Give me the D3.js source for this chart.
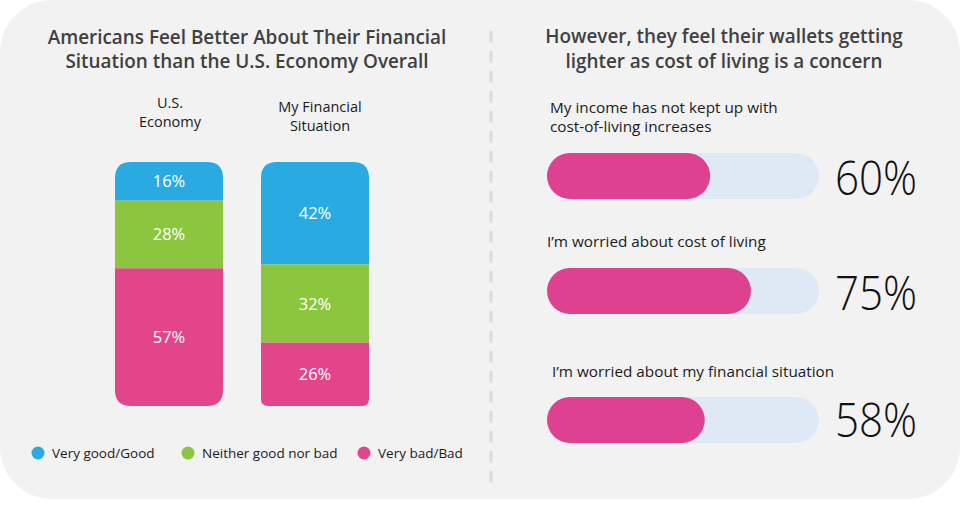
<!DOCTYPE html>
<html><head><meta charset="utf-8">
<script src="https://cdn.jsdelivr.net/npm/d3@7"></script>
<style>
html,body{margin:0;padding:0;background:#fff;}
svg{display:block;font-family:"Open Sans","Noto Sans",sans-serif;}
</style></head>
<body>
<svg id="chart" width="960" height="511"></svg>
<script>
// ---- data ----
const leftTitle = ["Americans Feel Better About Their Financial", "Situation than the U.S. Economy Overall"];
const rightTitle = ["However, they feel their wallets getting", "lighter as cost of living is a concern"];
const groupLabels = [["U.S.", "Economy"], ["My Financial", "Situation"]];
const categories = ["Very good/Good", "Neither good nor bad", "Very bad/Bad"];
const economyValues = [16, 28, 57];
const personalValues = [42, 32, 26];
const concernLabels = [["My income has not kept up with", "cost-of-living increases"], ["I’m worried about cost of living"], ["I’m worried about my financial situation"]];
const concernValues = [60, 75, 58];

const colors = ["#29abe2", "#8cc63f", "#e2458a"];

const svg = d3.select("#chart");

// card background
svg.append("rect").attr("x", 0).attr("y", 0).attr("width", 960).attr("height", 499)
  .attr("rx", 52).attr("fill", "#f2f2f2");

// divider
svg.append("line").attr("x1", 491).attr("x2", 491).attr("y1", 31).attr("y2", 490)
  .attr("stroke", "#dadada").attr("stroke-width", 3).attr("stroke-dasharray", "11.5 8.5");

// titles
function multiline(g, lines, x, y, lh, attrs) {
  const t = g.append("text").attr("x", x).attr("y", y);
  Object.entries(attrs).forEach(([k, v]) => t.attr(k, v));
  lines.forEach((l, i) => t.append("tspan").attr("x", x).attr("y", y + i * lh).text(l));
  return t;
}
multiline(svg, leftTitle, 247, 44, 24, {"text-anchor": "middle", "font-size": 18.9, "font-weight": 600, "fill": "#404040"});
multiline(svg, rightTitle, 724, 43, 25, {"text-anchor": "middle", "font-size": 18.9, "font-weight": 600, "fill": "#404040"});

// ---- stacked bars ----
const groupKeys = ["economy", "personal"];
const seriesByGroup = [economyValues, personalValues];
const x = d3.scaleBand().domain(groupKeys).range([115, 369]).paddingInner(0.26).paddingOuter(0);
const barTop = 162, barBottom = 406;
const labelY = [[108, 127], [112, 131]];

function roundedPath(x0, y0, w, h, rt, rb) {
  return `M${x0},${y0 + rt} Q${x0},${y0} ${x0 + rt},${y0} H${x0 + w - rt} Q${x0 + w},${y0} ${x0 + w},${y0 + rt}` +
    ` V${y0 + h - rb} Q${x0 + w},${y0 + h} ${x0 + w - rb},${y0 + h} H${x0 + rb} Q${x0},${y0 + h} ${x0},${y0 + h - rb} Z`;
}
const bottomRadius = [16, 7];

groupKeys.forEach((key, gi) => {
  const vals = seriesByGroup[gi];
  const total = d3.sum(vals);
  const y = d3.scaleLinear().domain([0, total]).range([barTop, barBottom]);
  const x0 = x(key), w = x.bandwidth();
  const clipId = "clip-" + key;
  svg.append("clipPath").attr("id", clipId).append("path")
    .attr("d", roundedPath(x0, barTop, w, barBottom - barTop, 16, bottomRadius[gi]));
  const g = svg.append("g").attr("clip-path", `url(#${clipId})`);
  let cum = 0;
  const segs = vals.map((v, i) => { const s = {v, i, a: cum, b: cum + v}; cum += v; return s; });
  g.selectAll("rect").data(segs).join("rect")
    .attr("x", x0).attr("width", w)
    .attr("y", d => y(d.a)).attr("height", d => y(d.b) - y(d.a))
    .attr("fill", d => colors[d.i]);
  svg.append("g").selectAll("text").data(segs).join("text")
    .attr("x", x0 + w / 2).attr("y", d => (y(d.a) + y(d.b)) / 2 + 6)
    .attr("text-anchor", "middle").attr("font-size", 16.5).attr("fill", "#fff")
    .text(d => d.v + "%");
  const cx = x0 + w / 2 + (gi === 1 ? 5 : 1);
  const t = svg.append("text").attr("text-anchor", "middle").attr("font-size", 14.5).attr("fill", "#1a1a1a");
  groupLabels[gi].forEach((l, li) => t.append("tspan").attr("x", cx).attr("y", labelY[gi][li]).text(l));
});

// legend
const legendX = [38, 188, 364];
const lg = svg.append("g").selectAll("g").data(categories).join("g")
  .attr("transform", (d, i) => `translate(${legendX[i]},453)`);
lg.append("circle").attr("r", 6.5).attr("fill", (d, i) => colors[i]);
lg.append("text").attr("x", 14).attr("y", 5).attr("font-size", 13.5).attr("fill", "#1a1a1a").text(d => d);

// ---- horizontal progress bars ----
const hx = d3.scaleLinear().domain([0, 100]).range([547, 819]);
const trackY = [153, 268, 397];
const trackH = 46;
const labelPos = [{x: 550, y: [113, 132]}, {x: 547, y: [247]}, {x: 552, y: [377]}];
const pctBase = [195, 310, 437];

concernValues.forEach((v, i) => {
  const g = svg.append("g");
  g.append("rect").attr("x", hx(0)).attr("y", trackY[i]).attr("width", hx(100) - hx(0)).attr("height", trackH)
    .attr("rx", trackH / 2).attr("fill", "#dfe9f6");
  g.append("rect").attr("x", hx(0)).attr("y", trackY[i]).attr("width", hx(v) - hx(0)).attr("height", trackH)
    .attr("rx", trackH / 2).attr("fill", "#dd4190");
  const t = g.append("text").attr("font-size", 15.3).attr("fill", "#1a1a1a");
  concernLabels[i].forEach((l, li) => t.append("tspan").attr("x", labelPos[i].x).attr("y", labelPos[i].y[li]).text(l));
  g.append("text").attr("x", 835).attr("y", pctBase[i]).attr("font-size", 48).attr("font-weight", 300)
    .attr("fill", "#111").attr("textLength", 82).attr("lengthAdjust", "spacingAndGlyphs")
    .text(v + "%");
});
</script>
</body></html>
